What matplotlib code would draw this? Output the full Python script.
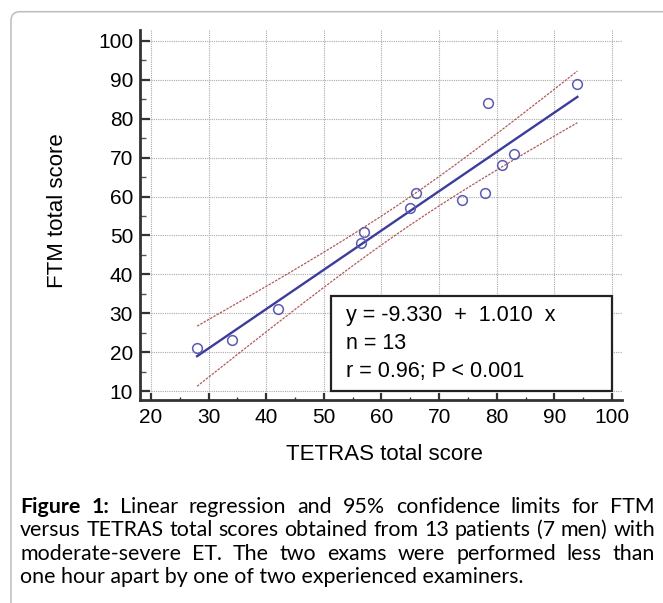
import numpy as np
import matplotlib
matplotlib.use("Agg")
import matplotlib.pyplot as plt
from matplotlib.patches import Rectangle, FancyBboxPatch

# data
tetras = [28, 34, 42, 56.5, 57, 65, 66, 74, 78, 78.5, 81, 83, 94]
ftm = [21, 23, 31, 48, 51, 57, 61, 59, 61, 84, 68, 71, 89]
intercept = -9.330
slope = 1.010
t_crit = 2.201  # t(0.975, n-2 = 11)

x_ticks = list(range(20, 101, 10))
y_ticks = list(range(10, 101, 10))
stats_lines = ["y = -9.330  +  1.010  x", "n = 13", "r = 0.96; P < 0.001"]

caption = [
    [("Figure", True), ("1:", True), ("Linear", False), ("regression", False), ("and", False),
     ("95%", False), ("confidence", False), ("limits", False), ("for", False), ("FTM", False)],
    [(w, False) for w in "versus TETRAS total scores obtained from 13 patients (7 men) with".split()],
    [(w, False) for w in "moderate-severe ET. The two exams were performed less than".split()],
]
last_line = "one hour apart by one of two experienced examiners."

plt.rcParams['font.family'] = ['Liberation Sans', 'DejaVu Sans']

W, H = 663, 603
fig = plt.figure(figsize=(W / 100, H / 100), dpi=100)

# rounded grey frame around the figure
frame = FancyBboxPatch((0.11, -0.5), 7.0, 5.913 + 0.5,
                       boxstyle="round,pad=0,rounding_size=0.09",
                       transform=fig.dpi_scale_trans, fill=False,
                       edgecolor="#bdbdbd", linewidth=1.1)
fig.patches.append(frame)

ax = fig.add_axes([140 / W, 1 - 400 / H, (622 - 140) / W, 370 / H])
ax.set_xlim(18.09, 101.74)
ax.set_ylim(7.69, 102.8)

x = np.array(tetras, dtype=float)
y = np.array(ftm, dtype=float)
n = len(x)
xs = np.linspace(x.min(), x.max(), 200)
fit = intercept + slope * xs
resid = y - (intercept + slope * x)
s = np.sqrt(np.sum(resid ** 2) / (n - 2))
sxx = np.sum((x - x.mean()) ** 2)
half = t_crit * s * np.sqrt(1 / n + (xs - x.mean()) ** 2 / sxx)

ax.plot(xs, fit + half, color="#b05a5a", lw=0.9, ls=(0, (2, 1)), zorder=3)
ax.plot(xs, fit - half, color="#b05a5a", lw=0.9, ls=(0, (2, 1)), zorder=3)
ax.plot(xs, fit, color="#3c3c9c", lw=1.7, zorder=4)
ax.plot(x, y, 'o', ms=7, mfc='none', mec="#5b5bb0", mew=1.1, zorder=5)

for side in ['top', 'right']:
    ax.spines[side].set_visible(False)
for side in ['left', 'bottom']:
    ax.spines[side].set_linewidth(2)
    ax.spines[side].set_color("#333333")

ax.set_xticks(x_ticks)
ax.set_yticks(y_ticks)
ax.set_xticks(np.arange(25, 100, 10), minor=True)
ax.set_yticks(np.arange(15, 100, 10), minor=True)
ax.tick_params(axis='x', which='major', direction='in', length=5, width=1.6,
               color="#333333", pad=6, labelsize=15)
ax.tick_params(axis='x', which='minor', direction='in', length=2.5, width=1,
               color="#333333")
ax.tick_params(axis='y', which='major', direction='in', length=7, width=1.6,
               color="#333333", pad=5, labelsize=15)
ax.tick_params(axis='y', which='minor', direction='in', length=4.3, width=1,
               color="#555555")

ax.set_axisbelow(True)
ax.grid(True, which='major', color="#aaaaaa", lw=0.8, ls=(0, (1, 1)))

box = Rectangle((51.3, 10.0), 48.7, 24.5, facecolor='white', edgecolor='#222222',
                lw=1.6, zorder=2.5)
ax.add_patch(box)
for txt, yy in zip(stats_lines, [29.5, 22.3, 14.9]):
    ax.text(53.9, yy, txt, fontsize=15.5, va='center', ha='left', zorder=6)

fig.text(384 / W, 1 - 455 / H, "TETRAS total score", fontsize=16, ha='center', va='center')
fig.text(58 / W, 1 - 211 / H, "FTM total score", fontsize=16, ha='center', va='center',
         rotation=90)

# caption, justified like the journal layout
left_px, right_px = 20, 655
renderer = fig.canvas.get_renderer()
probe = fig.text(0, 0, " ".join(w for w, _ in caption[1]), fontsize=10, family='Lato')
w10 = probe.get_window_extent(renderer).width
probe.remove()
fs = 10 * (right_px - left_px - 4) / w10

line_base = [513, 536, 560, 583]
for words, ly in zip(caption, line_base):
    items = []
    for w, bold in words:
        t = fig.text(0, 1 - ly / H, w, fontsize=fs, family='Lato',
                     fontweight='bold' if bold else 'normal', va='baseline', ha='left')
        items.append(t)
    widths = [t.get_window_extent(renderer).width for t in items]
    gap = (right_px - left_px - sum(widths)) / (len(items) - 1)
    pos = left_px
    for t, wd in zip(items, widths):
        t.set_x(pos / W)
        pos += wd + gap
fig.text(left_px / W, 1 - line_base[3] / H, last_line, fontsize=fs, family='Lato',
         va='baseline', ha='left')

fig.savefig("out.png", dpi=100)
